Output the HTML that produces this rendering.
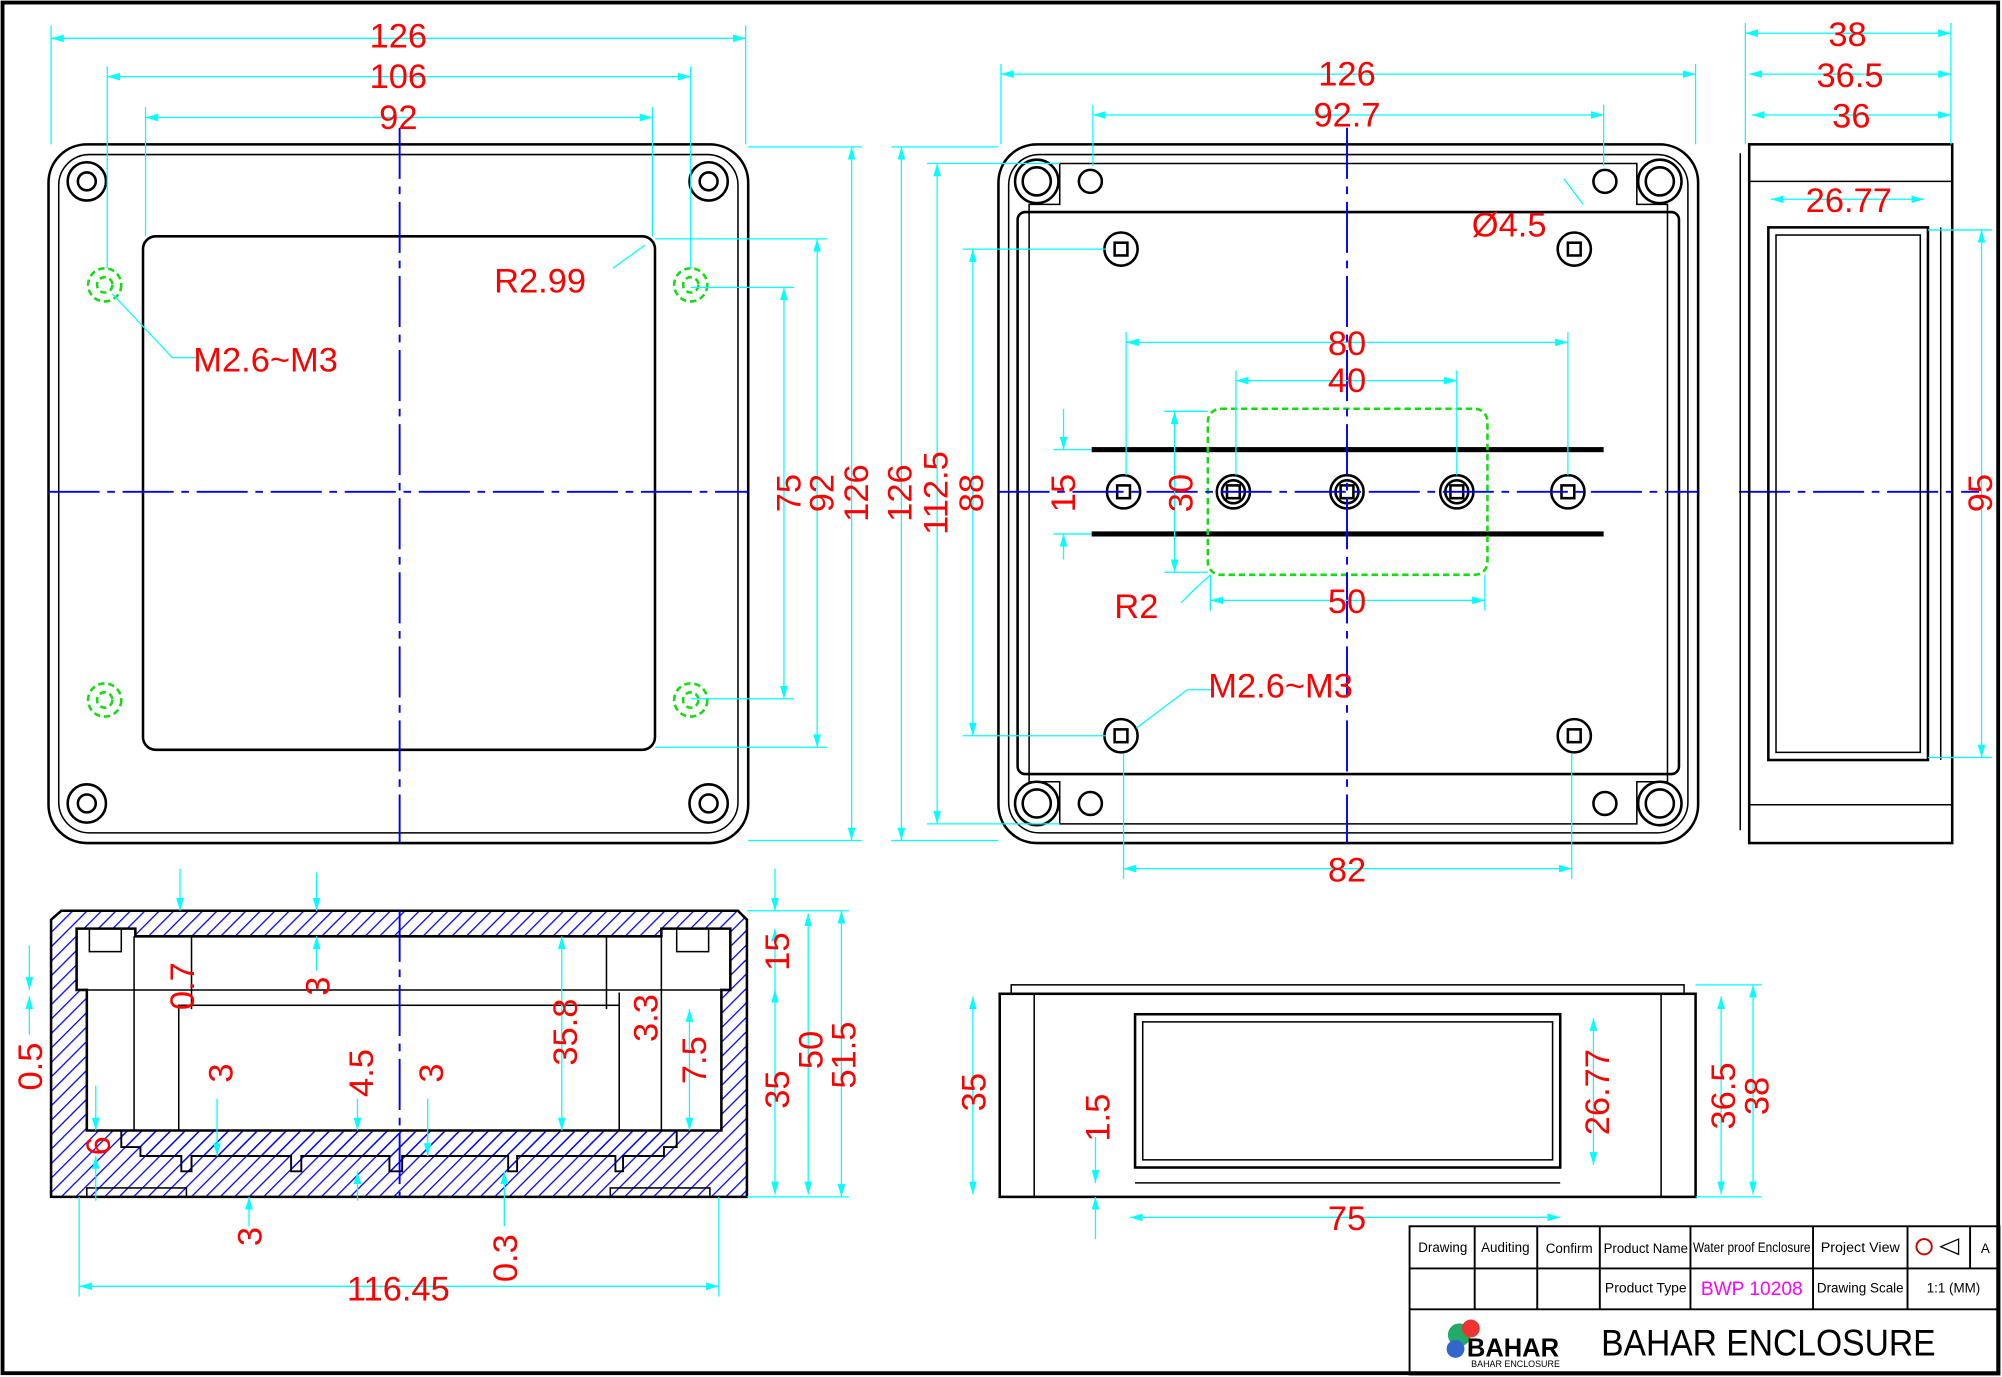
<!DOCTYPE html>
<html><head><meta charset="utf-8"><style>
html,body{margin:0;padding:0;background:#fff;}
svg{display:block;}
text{font-family:"Liberation Sans",sans-serif;}
.r{fill:#f00;font-size:27px;text-anchor:middle;}
.k{fill:none;stroke:#000;stroke-width:2;}
.t{fill:none;stroke:#000;stroke-width:1.2;}
.c{stroke:#0ff;stroke-width:1;fill:none;}
.b{stroke:#00f;stroke-width:1.5;fill:none;stroke-dasharray:40 6 6 6;}
.g{fill:none;stroke:#1d1;stroke-width:2;stroke-dasharray:5 3;}
.tb{font-size:10.5px;fill:#000;text-anchor:middle;}
</style></head><body>
<svg width="2002" height="1377" viewBox="0 0 1568 1078" preserveAspectRatio="none" xmlns="http://www.w3.org/2000/svg">
<defs>
<pattern id="h" width="8" height="8" patternUnits="userSpaceOnUse" patternTransform="rotate(45)"><line x1="0" y1="0" x2="0" y2="8" stroke="#00f" stroke-width="2"/></pattern>
<marker id="a" markerWidth="10" markerHeight="6" refX="10" refY="3" orient="auto-start-reverse"><path d="M0,0L10,3L0,6z" fill="#0ff"/></marker>
</defs>
<rect x="2" y="2" width="1563" height="1073" fill="none" stroke="#000" stroke-width="3"/>

<!-- TOP LEFT VIEW -->
<rect x="38" y="113" width="548" height="547" rx="30" class="k"/>
<rect x="46" y="121" width="532" height="531" rx="24" class="t"/>
<rect x="112" y="185" width="401" height="402" rx="10" class="k"/>
<g class="k"><circle cx="68" cy="142" r="15"/><circle cx="68" cy="142" r="7"/><circle cx="555" cy="142" r="15"/><circle cx="555" cy="142" r="7"/><circle cx="68" cy="629" r="15"/><circle cx="68" cy="629" r="7"/><circle cx="555" cy="629" r="15"/><circle cx="555" cy="629" r="7"/></g>
<g class="g"><circle cx="82" cy="223" r="13"/><circle cx="82" cy="223" r="6"/><circle cx="541" cy="223" r="13"/><circle cx="541" cy="223" r="6"/><circle cx="82" cy="548" r="13"/><circle cx="82" cy="548" r="6"/><circle cx="541" cy="548" r="13"/><circle cx="541" cy="548" r="6"/></g>
<line x1="313" y1="100" x2="313" y2="660" class="b"/><line x1="38" y1="385" x2="586" y2="385" class="b"/>
<g class="c">
<line x1="40" y1="30" x2="584" y2="30" marker-start="url(#a)" marker-end="url(#a)"/><line x1="40" y1="20" x2="40" y2="113"/><line x1="584" y1="20" x2="584" y2="113"/>
<line x1="84" y1="60" x2="541" y2="60" marker-start="url(#a)" marker-end="url(#a)"/><line x1="84" y1="52" x2="84" y2="210"/><line x1="541" y1="52" x2="541" y2="210"/>
<line x1="114" y1="92" x2="511" y2="92" marker-start="url(#a)" marker-end="url(#a)"/><line x1="114" y1="84" x2="114" y2="185"/><line x1="511" y1="84" x2="511" y2="185"/>
<line x1="614" y1="225" x2="614" y2="547" marker-start="url(#a)" marker-end="url(#a)"/><line x1="541" y1="225" x2="622" y2="225"/><line x1="541" y1="547" x2="622" y2="547"/>
<line x1="640" y1="187" x2="640" y2="585" marker-start="url(#a)" marker-end="url(#a)"/><line x1="513" y1="187" x2="648" y2="187"/><line x1="513" y1="585" x2="648" y2="585"/>
<line x1="667" y1="115" x2="667" y2="658" marker-start="url(#a)" marker-end="url(#a)"/><line x1="586" y1="115" x2="675" y2="115"/><line x1="586" y1="658" x2="675" y2="658"/>
<polyline points="88,230 135,280 155,280"/><polyline points="480,210 505,192"/>
</g>
<text class="r" x="312" y="37">126</text><text class="r" x="312" y="69">106</text><text class="r" x="312" y="101">92</text>
<text class="r" x="423" y="229">R2.99</text><text class="r" x="208" y="291">M2.6~M3</text>
<text class="r" transform="translate(627,386) rotate(-90)">75</text><text class="r" transform="translate(653,386) rotate(-90)">92</text><text class="r" transform="translate(680,386) rotate(-90)">126</text>

<!-- TOP MIDDLE VIEW -->
<rect x="782" y="113" width="548" height="547" rx="30" class="k"/>
<rect x="790" y="121" width="532" height="531" rx="24" class="t"/>
<path d="M830,128 H1282 V160 H1306 V612 H1282 V645 H830 V612 H806 V160 H830Z" class="t"/>
<rect x="797" y="166" width="518" height="440" rx="6" class="k"/>
<g class="k">
<circle cx="812" cy="142" r="17"/><circle cx="812" cy="142" r="11"/><circle cx="854" cy="142" r="9"/>
<circle cx="1300" cy="142" r="17"/><circle cx="1300" cy="142" r="11"/><circle cx="1257" cy="142" r="9"/>
<circle cx="812" cy="629" r="17"/><circle cx="812" cy="629" r="11"/><circle cx="854" cy="629" r="9"/>
<circle cx="1300" cy="629" r="17"/><circle cx="1300" cy="629" r="11"/><circle cx="1257" cy="629" r="9"/>
<circle cx="878" cy="195" r="13"/><rect x="873" y="190" width="10" height="10"/>
<circle cx="1233" cy="195" r="13"/><rect x="1228" y="190" width="10" height="10"/>
<circle cx="878" cy="576" r="13"/><rect x="873" y="571" width="10" height="10"/>
<circle cx="1233" cy="576" r="13"/><rect x="1228" y="571" width="10" height="10"/>
<circle cx="880" cy="385" r="13"/><rect x="875" y="380" width="10" height="10"/>
<circle cx="966" cy="385" r="13"/><circle cx="966" cy="385" r="9"/><rect x="961" y="380" width="10" height="10"/>
<circle cx="1055" cy="385" r="13"/><circle cx="1055" cy="385" r="9"/><rect x="1050" y="380" width="10" height="10"/>
<circle cx="1141" cy="385" r="13"/><circle cx="1141" cy="385" r="9"/><rect x="1136" y="380" width="10" height="10"/>
<circle cx="1228" cy="385" r="13"/><rect x="1223" y="380" width="10" height="10"/>
</g>
<rect x="855" y="350" width="401" height="4" fill="#000"/><rect x="855" y="416" width="401" height="4" fill="#000"/>
<rect x="946" y="320" width="219" height="130" rx="10" class="g" stroke-dasharray="9 5"/>
<line x1="1055" y1="100" x2="1055" y2="660" class="b"/><line x1="782" y1="385" x2="1330" y2="385" class="b"/>
<line x1="1362" y1="385" x2="1550" y2="385" class="b"/>
<g class="c">
<line x1="784" y1="58" x2="1328" y2="58" marker-start="url(#a)" marker-end="url(#a)"/><line x1="784" y1="50" x2="784" y2="113"/><line x1="1328" y1="50" x2="1328" y2="113"/>
<line x1="856" y1="90" x2="1256" y2="90" marker-start="url(#a)" marker-end="url(#a)"/><line x1="856" y1="82" x2="856" y2="130"/><line x1="1256" y1="82" x2="1256" y2="130"/>
<line x1="882" y1="268" x2="1228" y2="268" marker-start="url(#a)" marker-end="url(#a)"/><line x1="882" y1="260" x2="882" y2="372"/><line x1="1228" y1="260" x2="1228" y2="372"/>
<line x1="968" y1="298" x2="1141" y2="298" marker-start="url(#a)" marker-end="url(#a)"/><line x1="968" y1="290" x2="968" y2="372"/><line x1="1141" y1="290" x2="1141" y2="372"/>
<line x1="948" y1="470" x2="1163" y2="470" marker-start="url(#a)" marker-end="url(#a)"/><line x1="948" y1="450" x2="948" y2="478"/><line x1="1163" y1="450" x2="1163" y2="478"/>
<line x1="880" y1="680" x2="1231" y2="680" marker-start="url(#a)" marker-end="url(#a)"/><line x1="880" y1="590" x2="880" y2="688"/><line x1="1231" y1="590" x2="1231" y2="688"/>
<line x1="706" y1="115" x2="706" y2="658" marker-start="url(#a)" marker-end="url(#a)"/><line x1="698" y1="115" x2="782" y2="115"/><line x1="698" y1="658" x2="782" y2="658"/>
<line x1="734" y1="128" x2="734" y2="645" marker-start="url(#a)" marker-end="url(#a)"/><line x1="726" y1="128" x2="830" y2="128"/><line x1="726" y1="645" x2="830" y2="645"/>
<line x1="762" y1="195" x2="762" y2="576" marker-start="url(#a)" marker-end="url(#a)"/><line x1="754" y1="195" x2="866" y2="195"/><line x1="754" y1="576" x2="866" y2="576"/>
<line x1="833" y1="320" x2="833" y2="352" marker-end="url(#a)"/><line x1="833" y1="438" x2="833" y2="418" marker-end="url(#a)"/><line x1="825" y1="352" x2="855" y2="352"/><line x1="825" y1="418" x2="855" y2="418"/>
<line x1="920" y1="322" x2="920" y2="448" marker-start="url(#a)" marker-end="url(#a)"/><line x1="912" y1="322" x2="946" y2="322"/><line x1="912" y1="448" x2="946" y2="448"/>
<polyline points="925,472 935,462 948,450"/><polyline points="890,570 930,540 950,540"/><polyline points="1240,160 1225,140"/>
</g>
<text class="r" x="1055" y="67">126</text><text class="r" x="1055" y="99">92.7</text>
<text class="r" x="1055" y="278">80</text><text class="r" x="1055" y="307">40</text><text class="r" x="1055" y="480">50</text><text class="r" x="1055" y="690">82</text>
<text class="r" x="1182" y="185">Ø4.5</text><text class="r" x="890" y="484">R2</text><text class="r" x="1003" y="546">M2.6~M3</text>
<text class="r" transform="translate(714,386) rotate(-90)">126</text><text class="r" transform="translate(742,386) rotate(-90)">112.5</text><text class="r" transform="translate(770,386) rotate(-90)">88</text>
<text class="r" transform="translate(842,386) rotate(-90)">15</text><text class="r" transform="translate(934,386) rotate(-90)">30</text>

<!-- RIGHT SIDE VIEW -->
<rect x="1370" y="113" width="159" height="547" class="k"/>
<line x1="1370" y1="142" x2="1529" y2="142" class="t"/><line x1="1370" y1="630" x2="1529" y2="630" class="t"/>
<rect x="1385" y="178" width="125" height="417" class="k"/><rect x="1391" y="184" width="113" height="405" class="t"/>
<line x1="1363" y1="120" x2="1363" y2="650" class="t"/>
<line x1="1520" y1="178" x2="1520" y2="595" class="t"/>
<g class="c">
<line x1="1367" y1="26" x2="1528" y2="26" marker-start="url(#a)" marker-end="url(#a)"/><line x1="1367" y1="18" x2="1367" y2="113"/><line x1="1528" y1="18" x2="1528" y2="113"/>
<line x1="1370" y1="58" x2="1528" y2="58" marker-start="url(#a)" marker-end="url(#a)"/>
<line x1="1372" y1="90" x2="1528" y2="90" marker-start="url(#a)" marker-end="url(#a)"/>
<line x1="1387" y1="156" x2="1507" y2="156" marker-start="url(#a)" marker-end="url(#a)"/>
<line x1="1552" y1="180" x2="1552" y2="593" marker-start="url(#a)" marker-end="url(#a)"/><line x1="1510" y1="180" x2="1560" y2="180"/><line x1="1510" y1="593" x2="1560" y2="593"/>
</g>
<text class="r" x="1447" y="36">38</text><text class="r" x="1449" y="68">36.5</text><text class="r" x="1450" y="100">36</text><text class="r" x="1448" y="166">26.77</text>
<text class="r" transform="translate(1560,386) rotate(-90)">95</text>

<!-- BOTTOM LEFT SECTION -->
<path d="M48,713 H578 L585,720 V937 H40 V720Z M60,727 V775 H68 V885 H565 V775 H572 V727 H518 V733 H106 V727Z" fill="url(#h)" stroke="#000" stroke-width="2" fill-rule="evenodd"/>
<path d="M95,885 H530 V898 H520 V905 H488 V917 H482 V905 H405 V917 H398 V905 H315 V917 H305 V905 H236 V917 H228 V905 H150 V917 H142 V905 H110 V898 H95Z" fill="url(#h)" stroke="#000" stroke-width="1.5"/>
<g class="t">
<rect x="70" y="727" width="25" height="18"/><rect x="530" y="727" width="25" height="18"/>
<line x1="105" y1="733" x2="105" y2="885"/><line x1="150" y1="733" x2="150" y2="790"/><line x1="475" y1="733" x2="475" y2="790"/><line x1="518" y1="733" x2="518" y2="885"/>
<line x1="68" y1="775" x2="565" y2="775"/>
<rect x="140" y="787" width="345" height="98"/><line x1="485" y1="777" x2="485" y2="885"/>
<rect x="68" y="930" width="78" height="7"/><rect x="478" y="930" width="78" height="7"/>
</g>
<line x1="313" y1="713" x2="313" y2="937" class="b"/>
<g class="c">
<line x1="62" y1="1007" x2="563" y2="1007" marker-start="url(#a)" marker-end="url(#a)"/><line x1="62" y1="937" x2="62" y2="1015"/><line x1="563" y1="937" x2="563" y2="1015"/>
<line x1="141" y1="680" x2="141" y2="713" marker-end="url(#a)"/><line x1="248" y1="683" x2="248" y2="713" marker-end="url(#a)"/><line x1="248" y1="760" x2="248" y2="733" marker-end="url(#a)"/>
<line x1="607" y1="680" x2="607" y2="713" marker-end="url(#a)"/><line x1="607" y1="780" x2="607" y2="727" marker-end="url(#a)"/>
<line x1="607" y1="775" x2="607" y2="935" marker-start="url(#a)" marker-end="url(#a)"/>
<line x1="633" y1="715" x2="633" y2="935" marker-start="url(#a)" marker-end="url(#a)"/><line x1="659" y1="713" x2="659" y2="937" marker-start="url(#a)" marker-end="url(#a)"/>
<line x1="585" y1="713" x2="665" y2="713"/><line x1="585" y1="937" x2="665" y2="937"/>
<line x1="23" y1="740" x2="23" y2="775" marker-end="url(#a)"/><line x1="23" y1="810" x2="23" y2="780" marker-end="url(#a)"/>
<line x1="75" y1="850" x2="75" y2="885" marker-end="url(#a)"/><line x1="75" y1="940" x2="75" y2="905" marker-end="url(#a)"/>
<line x1="440" y1="733" x2="440" y2="885" marker-start="url(#a)" marker-end="url(#a)"/>
<line x1="540" y1="790" x2="540" y2="885" marker-start="url(#a)" marker-end="url(#a)"/>
<line x1="195" y1="960" x2="195" y2="937" marker-end="url(#a)"/><line x1="395" y1="960" x2="395" y2="917" marker-end="url(#a)"/>
<line x1="280" y1="860" x2="280" y2="885" marker-end="url(#a)"/><line x1="280" y1="940" x2="280" y2="917" marker-end="url(#a)"/>
<line x1="170" y1="860" x2="170" y2="905" marker-end="url(#a)"/><line x1="335" y1="860" x2="335" y2="905" marker-end="url(#a)"/>
</g>
<text class="r" x="312" y="1018">116.45</text>
<text class="r" transform="translate(205,968) rotate(-90)">3</text><text class="r" transform="translate(405,985) rotate(-90)">0.3</text>
<text class="r" transform="translate(86,897) rotate(-90)">6</text><text class="r" transform="translate(33,835) rotate(-90)">0.5</text>
<text class="r" transform="translate(152,772) rotate(-90)">0.7</text><text class="r" transform="translate(258,772) rotate(-90)">3</text>
<text class="r" transform="translate(182,840) rotate(-90)">3</text><text class="r" transform="translate(292,840) rotate(-90)">4.5</text><text class="r" transform="translate(347,840) rotate(-90)">3</text>
<text class="r" transform="translate(452,808) rotate(-90)">35.8</text><text class="r" transform="translate(515,797) rotate(-90)">3.3</text><text class="r" transform="translate(553,830) rotate(-90)">7.5</text>
<text class="r" transform="translate(618,745) rotate(-90)">15</text><text class="r" transform="translate(618,853) rotate(-90)">35</text><text class="r" transform="translate(644,822) rotate(-90)">50</text><text class="r" transform="translate(670,826) rotate(-90)">51.5</text>

<!-- BOTTOM MIDDLE VIEW -->
<rect x="783" y="778" width="545" height="159" class="k"/>
<rect x="792" y="771" width="527" height="7" class="t"/>
<line x1="810" y1="778" x2="810" y2="937" class="t"/><line x1="1301" y1="778" x2="1301" y2="937" class="t"/>
<rect x="889" y="794" width="333" height="120" class="k"/><rect x="895" y="800" width="321" height="108" class="t"/>
<line x1="889" y1="926" x2="1222" y2="926" class="t"/>
<g class="c">
<line x1="885" y1="953" x2="1222" y2="953" marker-start="url(#a)" marker-end="url(#a)"/>
<line x1="762" y1="780" x2="762" y2="935" marker-start="url(#a)" marker-end="url(#a)"/>
<line x1="858" y1="890" x2="858" y2="926" marker-end="url(#a)"/><line x1="858" y1="970" x2="858" y2="937" marker-end="url(#a)"/>
<line x1="1248" y1="797" x2="1248" y2="912" marker-start="url(#a)" marker-end="url(#a)"/>
<line x1="1348" y1="780" x2="1348" y2="935" marker-start="url(#a)" marker-end="url(#a)"/><line x1="1373" y1="771" x2="1373" y2="935" marker-start="url(#a)" marker-end="url(#a)"/>
<line x1="1328" y1="771" x2="1380" y2="771"/><line x1="1328" y1="937" x2="1380" y2="937"/>
</g>
<text class="r" x="1055" y="963">75</text>
<text class="r" transform="translate(772,855) rotate(-90)">35</text><text class="r" transform="translate(869,875) rotate(-90)">1.5</text>
<text class="r" transform="translate(1260,855) rotate(-90)">26.77</text><text class="r" transform="translate(1359,858) rotate(-90)">36.5</text><text class="r" transform="translate(1385,858) rotate(-90)">38</text>

<!-- TITLE BLOCK -->
<g stroke="#000" stroke-width="1.5" fill="none">
<rect x="1104" y="960" width="462" height="116"/>
<line x1="1104" y1="993" x2="1566" y2="993"/><line x1="1104" y1="1025" x2="1566" y2="1025"/>
<line x1="1155" y1="960" x2="1155" y2="1025"/><line x1="1204" y1="960" x2="1204" y2="1025"/><line x1="1253" y1="960" x2="1253" y2="1025"/>
<line x1="1324" y1="960" x2="1324" y2="1025"/><line x1="1420" y1="960" x2="1420" y2="1025"/><line x1="1494" y1="960" x2="1494" y2="1025"/><line x1="1543" y1="960" x2="1543" y2="993"/>
</g>
<text class="tb" x="1130" y="980">Drawing</text><text class="tb" x="1179" y="980">Auditing</text><text class="tb" x="1229" y="981">Confirm</text>
<text class="tb" x="1289" y="981" textLength="66" lengthAdjust="spacingAndGlyphs">Product Name</text><text class="tb" x="1372" y="980" textLength="92" lengthAdjust="spacingAndGlyphs">Water proof Enclosure</text>
<text class="tb" x="1457" y="980" textLength="62" lengthAdjust="spacingAndGlyphs">Project View</text><text class="tb" x="1555" y="981">A</text>
<circle cx="1507" cy="976" r="6" fill="none" stroke="#c00" stroke-width="1.5"/><path d="M1520,976 l14,-6 v12z" fill="none" stroke="#000"/>
<text class="tb" x="1289" y="1012" textLength="64" lengthAdjust="spacingAndGlyphs">Product Type</text><text x="1372" y="1014" style="font-size:15px;fill:#f0f;text-anchor:middle">BWP 10208</text>
<text class="tb" x="1457" y="1012" textLength="68" lengthAdjust="spacingAndGlyphs">Drawing Scale</text><text class="tb" x="1530" y="1012">1:1 (MM)</text>
<circle cx="1143" cy="1045" r="9" fill="#2a6"/><circle cx="1152" cy="1040" r="7" fill="#e33"/><circle cx="1140" cy="1056" r="7" fill="#36c"/>
<text x="1185" y="1062" style="font-size:20px;font-weight:bold;fill:#000;text-anchor:middle">BAHAR</text>
<text x="1187" y="1070" style="font-size:7px;fill:#000;text-anchor:middle">BAHAR ENCLOSURE</text>
<text x="1385" y="1061" style="font-size:29px;fill:#000;text-anchor:middle" textLength="262" lengthAdjust="spacingAndGlyphs">BAHAR  ENCLOSURE</text>
</svg>
</body></html>
